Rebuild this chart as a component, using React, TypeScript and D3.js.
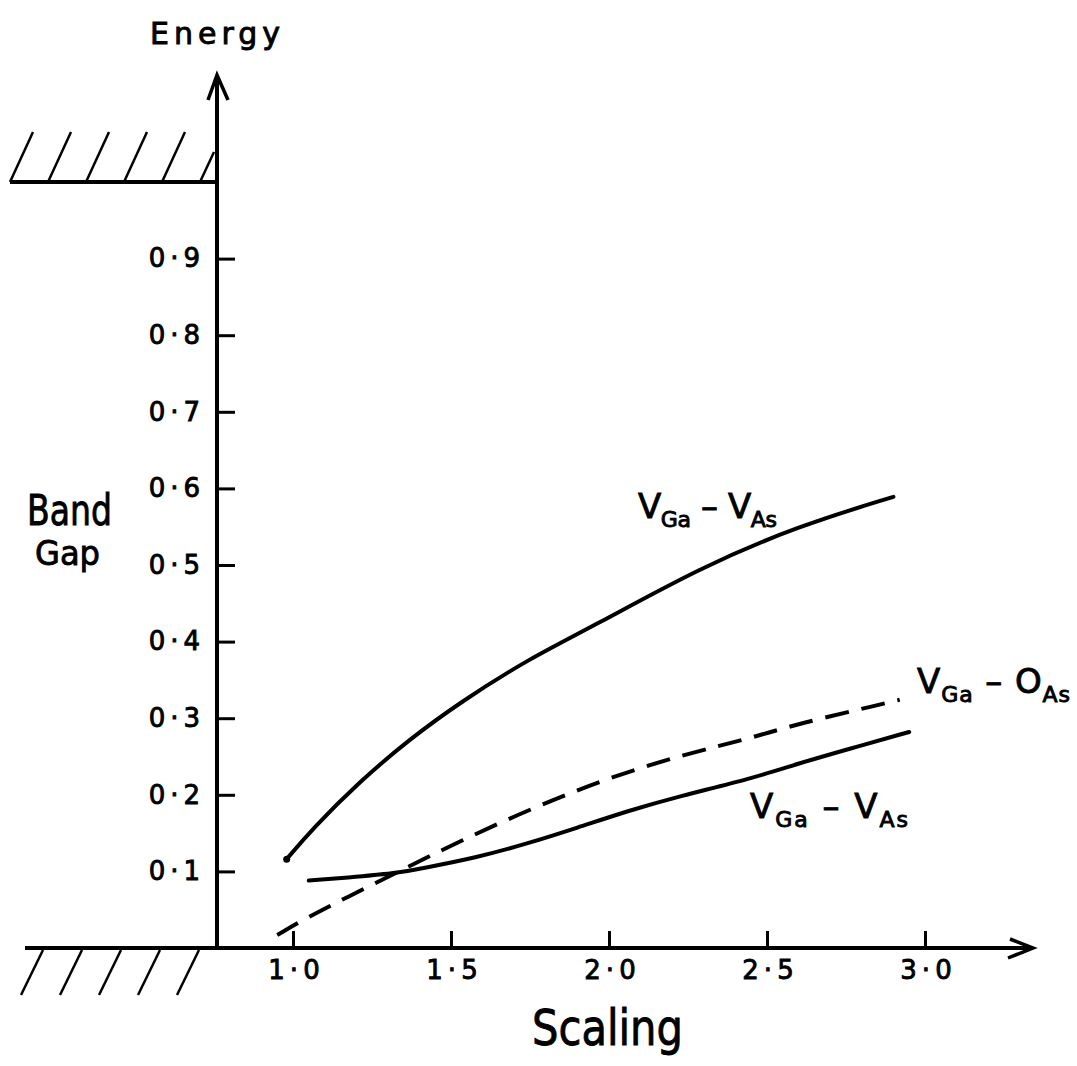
import React, { useEffect, useRef } from 'react';
import * as d3 from 'd3';

// tick values on both axes
const yTicks = [0.1, 0.2, 0.3, 0.4, 0.5, 0.6, 0.7, 0.8, 0.9];
const xTicks = [1.0, 1.5, 2.0, 2.5, 3.0];

// band edges (hatched)
const valenceEdge = 0;
const conductionEdge = 1.0;

// V_Ga - V_As, upper solid curve [scaling, gap]
const vacancyUpper: [number, number][] = [
  [0.98, 0.116], [1.06, 0.155], [1.21, 0.217], [1.37, 0.273], [1.53, 0.321],
  [1.74, 0.376], [1.95, 0.42], [2.29, 0.497], [2.6, 0.551], [2.9, 0.589],
];

// V_Ga - O_As, dashed curve
const oxygenDashed: [number, number][] = [
  [0.95, 0.017], [1.05, 0.041], [1.17, 0.066], [1.32, 0.097], [1.53, 0.14],
  [1.76, 0.183], [1.99, 0.221], [2.23, 0.252], [2.45, 0.274], [2.6, 0.293],
  [2.86, 0.318], [2.92, 0.324],
];

// V_Ga - V_As, lower solid curve
const vacancyLower: [number, number][] = [
  [1.05, 0.088], [1.17, 0.092], [1.32, 0.097], [1.42, 0.105], [1.58, 0.118],
  [1.74, 0.136], [1.9, 0.157], [2.06, 0.179], [2.22, 0.198], [2.45, 0.221],
  [2.6, 0.241], [2.76, 0.26], [2.95, 0.282],
];

const FONT = '"DejaVu Sans", sans-serif';

export default function App() {
  const svgRef = useRef<SVGSVGElement>(null);

  useEffect(() => {
    if (!svgRef.current) return;
    const root = d3.select(svgRef.current);
    root.selectAll('*').remove();

    const axisX = 217;
    const x = d3.scaleLinear().domain([1, 3]).range([293, 925]);
    const y = d3.scaleLinear().domain([0, 1]).range([948, 182]);
    const y0 = y(valenceEdge);
    const yTop = y(conductionEdge);

    const g = root.append('g');

    // hatched conduction band edge
    g.append('line')
      .attr('x1', 10).attr('x2', axisX)
      .attr('y1', yTop).attr('y2', yTop)
      .attr('stroke', '#000').attr('stroke-width', 4);
    for (let i = 0; i < 6; i++) {
      const bx = 10 + i * 38;
      const last = i === 5;
      g.append('line')
        .attr('x1', bx).attr('y1', yTop)
        .attr('x2', last ? bx + 14 : bx + 23).attr('y2', last ? yTop - 30 : yTop - 50)
        .attr('stroke', '#000').attr('stroke-width', 2.5);
    }

    // hatched valence band edge
    for (let i = 0; i < 5; i++) {
      const tx = 43 + i * 39;
      g.append('line')
        .attr('x1', tx).attr('y1', y0 + 2)
        .attr('x2', tx - 22).attr('y2', y0 + 47)
        .attr('stroke', '#000').attr('stroke-width', 2.5);
    }

    // x axis line with arrow
    g.append('line')
      .attr('x1', 25).attr('x2', 1033)
      .attr('y1', y0).attr('y2', y0)
      .attr('stroke', '#000').attr('stroke-width', 4);
    g.append('path')
      .attr('d', `M1010,${y0 - 9}L1033,${y0}L1008,${y0 + 10}`)
      .attr('fill', 'none').attr('stroke', '#000').attr('stroke-width', 3.5);

    // y axis line with arrow
    g.append('line')
      .attr('x1', axisX).attr('x2', axisX)
      .attr('y1', y0).attr('y2', 76)
      .attr('stroke', '#000').attr('stroke-width', 4);
    g.append('path')
      .attr('d', `M208,100L${axisX},75L228,100`)
      .attr('fill', 'none').attr('stroke', '#000').attr('stroke-width', 3.5);

    const fmt = (d: d3.NumberValue) => d3.format('.1f')(d as number).replace('.', '·');

    // y ticks, pointing right, labels left
    const yAxis = g.append('g')
      .attr('transform', `translate(${axisX},0)`)
      .call(d3.axisLeft(y).tickValues(yTicks).tickSizeInner(-18).tickSizeOuter(0).tickPadding(12).tickFormat(fmt));
    yAxis.select('.domain').remove();
    yAxis.selectAll('line').attr('stroke', '#000').attr('stroke-width', 3);
    yAxis.selectAll('text')
      .attr('fill', '#000').attr('stroke', '#000').attr('stroke-width', 0.9)
      .style('font-family', FONT)
      .style('font-size', '26px')
      .style('letter-spacing', '5px');

    // x ticks, pointing up, labels below
    const xAxis = g.append('g')
      .attr('transform', `translate(0,${y0})`)
      .call(d3.axisBottom(x).tickValues(xTicks).tickSizeInner(-17).tickSizeOuter(0).tickPadding(13).tickFormat(fmt));
    xAxis.select('.domain').remove();
    xAxis.selectAll('line').attr('stroke', '#000').attr('stroke-width', 3);
    xAxis.selectAll('text')
      .attr('fill', '#000').attr('stroke', '#000').attr('stroke-width', 0.9)
      .attr('dx', '3px')
      .style('font-family', FONT)
      .style('font-size', '26px')
      .style('letter-spacing', '5px');

    // curves
    const line = d3.line<[number, number]>()
      .x(d => x(d[0]))
      .y(d => y(d[1]))
      .curve(d3.curveBasis);

    g.append('path').datum(vacancyUpper)
      .attr('d', line).attr('fill', 'none')
      .attr('stroke', '#000').attr('stroke-width', 4).attr('stroke-linecap', 'round');
    g.append('circle')
      .attr('cx', x(vacancyUpper[0][0])).attr('cy', y(vacancyUpper[0][1]))
      .attr('r', 3.5).attr('fill', '#000');

    g.append('path').datum(oxygenDashed)
      .attr('d', line).attr('fill', 'none')
      .attr('stroke', '#000').attr('stroke-width', 4)
      .attr('stroke-dasharray', '24 13');

    g.append('path').datum(vacancyLower)
      .attr('d', line).attr('fill', 'none')
      .attr('stroke', '#000').attr('stroke-width', 4).attr('stroke-linecap', 'round');

    // axis titles
    const title = (tx: number, ty: number, len: number, size: number, txt: string, adjust: string) =>
      g.append('text')
        .attr('x', tx).attr('y', ty)
        .attr('textLength', len).attr('lengthAdjust', adjust)
        .attr('fill', '#000').attr('stroke', '#000').attr('stroke-width', 0.9)
        .style('font-family', FONT).style('font-size', `${size}px`)
        .text(txt);

    title(150, 44, 130, 30, 'Energy', 'spacing');
    title(27, 525, 85, 42, 'Band', 'spacingAndGlyphs');
    title(35, 565, 65, 34, 'Gap', 'spacingAndGlyphs');
    title(532, 1045, 151, 50, 'Scaling', 'spacingAndGlyphs');

    // curve labels
    const label = (x0: number, base: number, len: number, second: string) => {
      const t = g.append('text')
        .attr('x', x0).attr('y', base)
        .attr('textLength', len).attr('lengthAdjust', 'spacing')
        .attr('fill', '#000').attr('stroke', '#000').attr('stroke-width', 0.9)
        .style('font-family', FONT).style('font-size', '34px');
      t.append('tspan').text('V');
      t.append('tspan').attr('dy', 9).style('font-size', '22px').text('Ga');
      t.append('tspan').attr('dy', -9).text(' – ' + second);
      t.append('tspan').attr('dy', 9).style('font-size', '22px').text('As');
    };
    label(638, 518, 139, 'V');
    label(917, 693, 153, 'O');
    label(750, 818, 158, 'V');
  }, []);

  return (
    <svg
      ref={svgRef}
      width={1077}
      height={1066}
      style={{ position: 'absolute', left: 0, top: 0, background: '#fff' }}
    />
  );
}
